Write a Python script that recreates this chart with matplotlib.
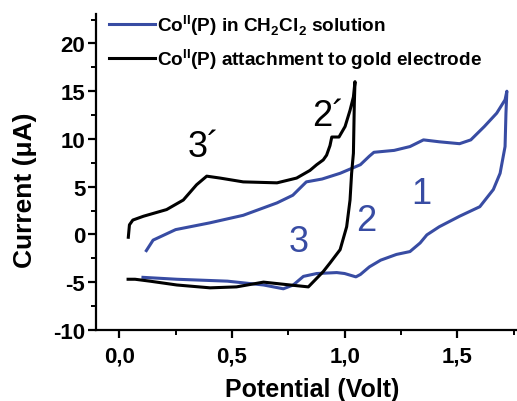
import matplotlib
matplotlib.use("Agg")
import matplotlib.pyplot as plt
from matplotlib.ticker import MultipleLocator

plt.rcParams['font.family'] = ['Liberation Sans', 'DejaVu Sans']
plt.rcParams['axes.unicode_minus'] = False
plt.rcParams['mathtext.fontset'] = 'custom'
plt.rcParams['mathtext.rm'] = 'Liberation Sans:bold'
plt.rcParams['mathtext.bf'] = 'Liberation Sans:bold'

# CV of Co(II)(P) in CH2Cl2 solution (forward scan then return)
blue_x = [0.12, 0.15, 0.25, 0.40, 0.55, 0.70, 0.77, 0.83, 0.90, 0.98, 1.07, 1.11, 1.13,
          1.22, 1.29, 1.35, 1.42, 1.51, 1.56, 1.62, 1.675, 1.712, 1.72, 1.716, 1.712,
          1.69, 1.66, 1.60, 1.51, 1.42, 1.365, 1.335, 1.29, 1.23, 1.16, 1.11, 1.07,
          1.05, 1.00, 0.965, 0.876, 0.817, 0.772, 0.728, 0.64, 0.48, 0.255, 0.105]
blue_y = [-1.7, -0.6, 0.5, 1.2, 2.0, 3.3, 4.1, 5.5, 5.8, 6.4, 7.3, 8.2, 8.6,
          8.8, 9.2, 9.9, 9.7, 9.5, 9.9, 11.3, 12.7, 14.1, 15.0, 12.7, 9.2,
          6.4, 4.7, 2.9, 1.9, 0.8, -0.05, -0.9, -1.8, -2.1, -2.7, -3.4, -4.2,
          -4.45, -4.1, -4.0, -4.1, -4.4, -5.3, -5.7, -5.3, -4.9, -4.7, -4.5]

# CV of Co(II)(P) attached to gold electrode
black_x = [0.04, 0.045, 0.06, 0.107, 0.21, 0.284, 0.343, 0.388, 0.447, 0.55, 0.70,
           0.787, 0.846, 0.876, 0.905, 0.92, 0.935, 0.943, 0.975, 1.002, 1.024, 1.039,
           1.046, 1.043, 1.039, 1.031, 1.024, 1.009, 0.98, 0.935, 0.905, 0.839, 0.758,
           0.64, 0.52, 0.403, 0.255, 0.136, 0.07, 0.039]
black_y = [-0.3, 1.0, 1.5, 1.9, 2.6, 3.6, 5.2, 6.1, 5.9, 5.5, 5.4,
           5.9, 6.7, 7.3, 7.8, 8.3, 9.3, 10.2, 10.2, 11.3, 13.0, 14.4,
           16.0, 13.7, 8.5, 6.4, 3.6, 0.8, -1.6, -3.0, -3.9, -5.5, -5.3,
           -5.0, -5.5, -5.6, -5.3, -4.9, -4.7, -4.7]

peak_labels = ["1", "2", "3"]
peak_x = [1.34, 1.095, 0.795]
peak_y = [4.3, 1.5, -0.75]
prime_labels = ["3\u00b4", "2\u00b4"]
prime_x = [0.373, 0.928]
prime_y = [9.2, 12.5]

x_ticks = [0.0, 0.5, 1.0, 1.5]
x_ticklabels = ["0,0", "0,5", "1,0", "1,5"]
y_ticks = [-10, -5, 0, 5, 10, 15, 20]

blue = '#384ca3'

fig = plt.figure(figsize=(5.17, 4.02), dpi=100)
ax = fig.add_axes([0.185, 0.177, 0.815, 0.786])

ax.plot(blue_x, blue_y, color=blue, lw=2.2,
        label=r'Co$^{\mathrm{II}}$(P) in CH$_{\mathrm{2}}$Cl$_{\mathrm{2}}$ solution')
ax.plot(black_x, black_y, color='black', lw=2.2,
        label=r'Co$^{\mathrm{II}}$(P) attachment to gold electrode')

for t, x, y in zip(peak_labels, peak_x, peak_y):
    ax.text(x, y, t, color=blue, fontsize=26, ha='center', va='center')
for t, x, y in zip(prime_labels, prime_x, prime_y):
    ax.text(x, y, t, color='black', fontsize=26, ha='center', va='center')

ax.set_xlim(-0.105, 1.765)
ax.set_ylim(-10, 23.1)
ax.spines['top'].set_visible(False)
ax.spines['right'].set_visible(False)
for s in ['left', 'bottom']:
    ax.spines[s].set_linewidth(1.6)

ax.set_xticks(x_ticks)
ax.set_xticklabels(x_ticklabels)
ax.set_yticks(y_ticks)
ax.xaxis.set_minor_locator(MultipleLocator(0.25))
ax.yaxis.set_minor_locator(MultipleLocator(2.5))
ax.tick_params(which='major', length=5.5, width=1.6, labelsize=16, pad=2)
ax.tick_params(which='minor', length=3.5, width=1.4)
ax.tick_params(axis='x', which='major', pad=6)
for lab in ax.get_xticklabels() + ax.get_yticklabels():
    lab.set_fontweight('bold')

ax.set_xlabel('Potential (Volt)', fontsize=18, fontweight='bold')
ax.xaxis.set_label_coords(0.513, -0.15)
ax.set_ylabel('Current (\u03bcA)', fontsize=19, fontweight='bold')
ax.yaxis.set_label_coords(-0.14, 0.446)

leg = ax.legend(loc='upper left', bbox_to_anchor=(0.014, 1.03), frameon=False,
                prop={'size': 13.7, 'weight': 'bold'}, handlelength=2.4,
                handletextpad=0.1, labelspacing=0.47, borderaxespad=0.0)

fig.savefig('out.png', dpi=100)
